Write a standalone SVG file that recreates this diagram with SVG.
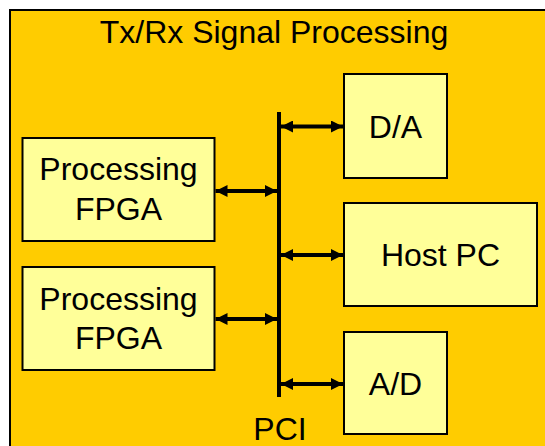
<svg xmlns="http://www.w3.org/2000/svg" width="545" height="446" viewBox="0 0 545 446">
  <style>
    .box { fill: #FFFF99; stroke: #000; stroke-width: 2; }
    .lbl { font-family: "Liberation Sans", Arial, sans-serif; font-size: 32px; fill: #000; text-anchor: middle; }
    .conn { stroke: #000; stroke-width: 4; fill: none; }
    .arr { marker-start: url(#ah); marker-end: url(#ah); }
  </style>
  <defs>
    <marker id="ah" viewBox="0 0 12 12" refX="12" refY="6" markerWidth="12" markerHeight="12" markerUnits="userSpaceOnUse" orient="auto-start-reverse">
      <path d="M0,0 L12,6 L0,12 Z" fill="#000"/>
    </marker>
  </defs>
  <rect x="0" y="0" width="545" height="446" fill="#FFFFFF"/>
  <g id="container">
    <rect x="10" y="10" width="560" height="460" fill="#FFCC00" stroke="#000" stroke-width="2"/>
    <text class="lbl" x="274" y="43">Tx/Rx Signal Processing</text>
  </g>
  <g id="fpga1">
    <rect class="box" x="22.5" y="138" width="192" height="103"/>
    <text class="lbl" x="118.5" y="180">Processing</text>
    <text class="lbl" x="118.5" y="220">FPGA</text>
  </g>
  <g id="fpga2">
    <rect class="box" x="22.5" y="267" width="192" height="103"/>
    <text class="lbl" x="118.5" y="310">Processing</text>
    <text class="lbl" x="118.5" y="349">FPGA</text>
  </g>
  <g id="da">
    <rect class="box" x="344" y="74" width="103" height="104"/>
    <text class="lbl" x="395.5" y="138">D/A</text>
  </g>
  <g id="hostpc">
    <rect class="box" x="344" y="203" width="193" height="103"/>
    <text class="lbl" x="440.5" y="266">Host PC</text>
  </g>
  <g id="ad">
    <rect class="box" x="344" y="332" width="103" height="102"/>
    <text class="lbl" x="395.5" y="395">A/D</text>
  </g>
  <g id="pci">
    <text class="lbl" x="280" y="440">PCI</text>
  </g>
  <g id="connectors">
    <line class="conn" x1="279" y1="112" x2="279" y2="397"/>
    <line class="conn arr" x1="281" y1="126.5" x2="343" y2="126.5"/>
    <line class="conn arr" x1="215.5" y1="191" x2="277" y2="191"/>
    <line class="conn arr" x1="281" y1="255" x2="343" y2="255"/>
    <line class="conn arr" x1="215.5" y1="319" x2="277" y2="319"/>
    <line class="conn arr" x1="281" y1="384" x2="343" y2="384"/>
  </g>
</svg>
